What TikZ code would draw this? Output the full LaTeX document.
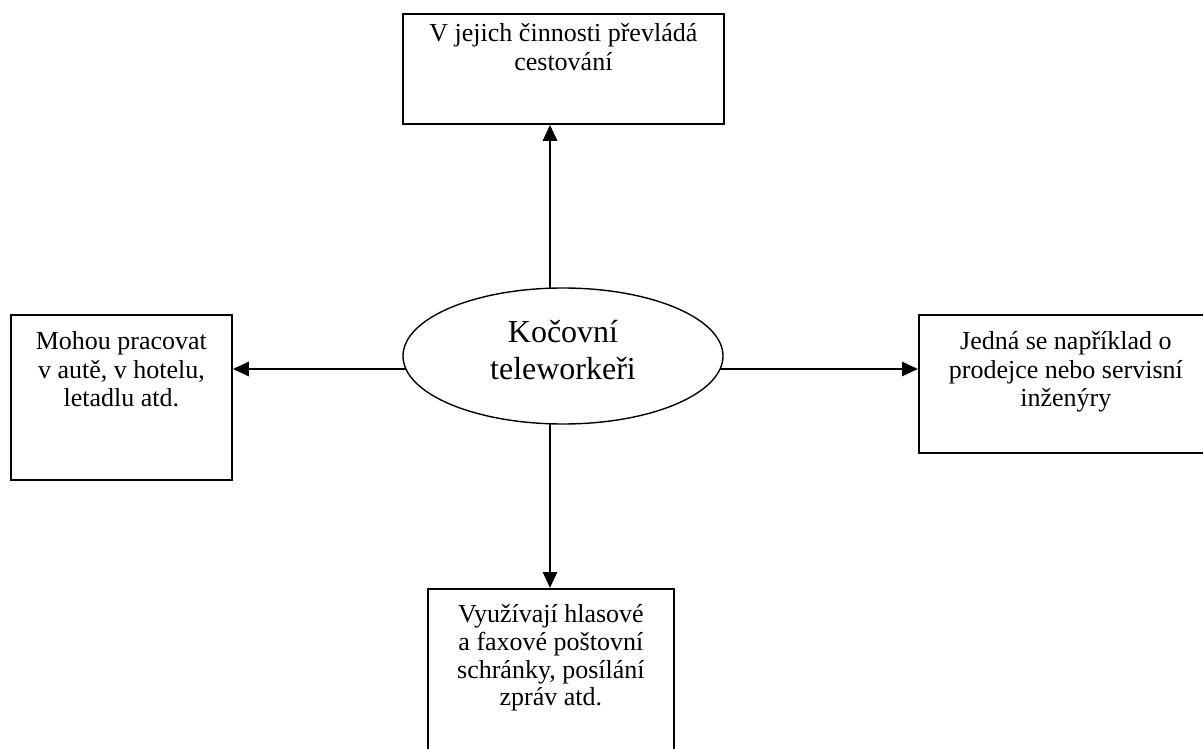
\documentclass[tikz,border=0pt]{standalone}
\usepackage{fontspec}
\setmainfont{Liberation Serif}
\usetikzlibrary{arrows.meta,shapes.geometric,calc}

% Top-aligned, centred text block of fixed size:
% width, height, first baseline, line distance, lines
\newcommand\boxtext[5]{%
  \parbox[c][#2][t]{#1}{\centering\fontsize{26}{#4}\selectfont
    \lineskiplimit=-100pt\rule{0pt}{#3}#5}}

\tikzset{
  textbox/.style={draw, rectangle, line width=1.8pt, inner sep=0pt,
    anchor=north west},
  hub/.style={draw, ellipse, line width=1.4pt, inner sep=0pt,
    minimum width=320pt, minimum height=136pt, align=center,
    font=\fontsize{32}{37}\selectfont, text height=46pt, text depth=0pt},
  arr/.style={line width=2.7pt, -{Triangle[length=16pt,width=14pt]}}
}

\begin{document}
\begin{tikzpicture}[x=1pt,y=-1pt]
  \fill[white] (0,0) rectangle (1203,749);
  \useasboundingbox (0,0) rectangle (1203,749);

  % central ellipse
  \node[hub] (e) at (563,356) {Kočovní\\teleworkeři};

  % surrounding boxes
  \node[textbox] (top) at (402,13)
    {\boxtext{321pt}{110pt}{28pt}{28.5pt}{V jejich činnosti převládá\\ cestování}};
  \node[textbox] (lft) at (10,314)
    {\boxtext{221pt}{165pt}{35pt}{28.5pt}{Mohou pracovat\\ v autě, v hotelu,\\ letadlu atd.}};
  \node[textbox] (rgt) at (918,314)
    {\boxtext{294pt}{138pt}{35pt}{28.5pt}{Jedná se například o\\ prodejce nebo servisní\\ inženýry}};
  \node[textbox] (bot) at (427,588)
    {\boxtext{246pt}{180pt}{33.5pt}{27.8pt}{Využívají hlasové\\ a faxové poštovní\\ schránky, posílání\\ zpráv atd.}};

  % points where the connectors leave the ellipse
  \coordinate (eu) at ($(e.center)+(-13,-67.8)$);
  \coordinate (ed) at ($(e.center)+(-13,67.8)$);
  \coordinate (el) at ($(e.center)+(-157,13)$);
  \coordinate (er) at ($(e.center)+(157,13)$);

  % connectors from the ellipse
  \draw[arr] (eu) -- (eu |- top.south);
  \draw[arr] (ed) -- (ed |- bot.north);
  \draw[arr] (el) -- (el -| lft.east);
  \draw[arr] (er) -- (er -| rgt.west);
\end{tikzpicture}
\end{document}
